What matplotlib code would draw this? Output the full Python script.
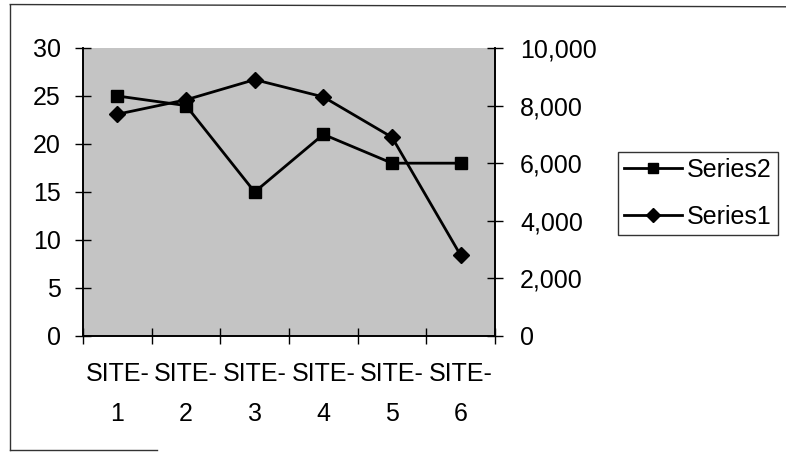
import matplotlib.pyplot as plt
from matplotlib.lines import Line2D
from matplotlib.ticker import FuncFormatter

plt.rcParams['font.family'] = ['Liberation Sans', 'DejaVu Sans']

sites = ["SITE-\n1", "SITE-\n2", "SITE-\n3", "SITE-\n4", "SITE-\n5", "SITE-\n6"]
series2 = [25, 24, 15, 21, 18, 18]            # left axis
series1 = [7700, 8200, 8900, 8300, 6900, 2800]  # right axis

fig = plt.figure(figsize=(7.86, 4.53), dpi=100)
ax = fig.add_axes([0.1056, 0.2583, 0.5242, 0.6358])
ax.set_facecolor('#c4c4c4')
ax2 = ax.twinx()

x = [i + 0.5 for i in range(len(sites))]
ax.plot(x, series2, color='black', lw=2, marker='s', markersize=9, label='Series2')
ax2.plot(x, series1, color='black', lw=2, marker='D', markersize=8.5, label='Series1')

ax.set_xlim(0, len(sites))
ax.set_ylim(0, 30)
ax2.set_ylim(0, 10000)
ax.set_yticks(range(0, 31, 5))
ax2.set_yticks(range(0, 10001, 2000))
ax2.yaxis.set_major_formatter(FuncFormatter(lambda v, p: f"{int(v):,}"))

ax.set_xticks(range(0, len(sites) + 1))
ax.set_xticklabels([])
ax.set_xticks(x, minor=True)
ax.set_xticklabels(sites, minor=True, fontsize=18, linespacing=1.8)
ax.tick_params(axis='x', which='minor', length=0, pad=19)
ax.tick_params(axis='x', which='major', direction='inout', length=12, width=1)
ax.tick_params(axis='y', direction='inout', length=12, width=1, labelsize=18, pad=10)
ax2.tick_params(axis='y', direction='inout', length=12, width=1, labelsize=18, pad=12)

for a in (ax, ax2):
    a.spines['top'].set_visible(False)
    for s in ('left', 'right', 'bottom'):
        a.spines[s].set_linewidth(1.2)

handles = [ax.get_lines()[0], ax2.get_lines()[0]]
leg = fig.legend(handles, ['Series2', 'Series1'], loc='center left',
                 bbox_to_anchor=(0.786, 0.573), fontsize=18, frameon=True,
                 fancybox=False, edgecolor='black', handlelength=2.3,
                 borderpad=0.25, labelspacing=0.9, handletextpad=0.2,
                 borderaxespad=0, markerscale=0.8)
leg.get_frame().set_linewidth(1)

# outer chart frame
fig.add_artist(Line2D([0.013, 0.013], [0.006, 0.99], color='#333333', lw=1))
fig.add_artist(Line2D([0.013, 1.0], [0.99, 0.985], color='#333333', lw=1))
fig.add_artist(Line2D([0.013, 0.2], [0.006, 0.006], color='#333333', lw=1))

fig.savefig('out.png', dpi=100)
